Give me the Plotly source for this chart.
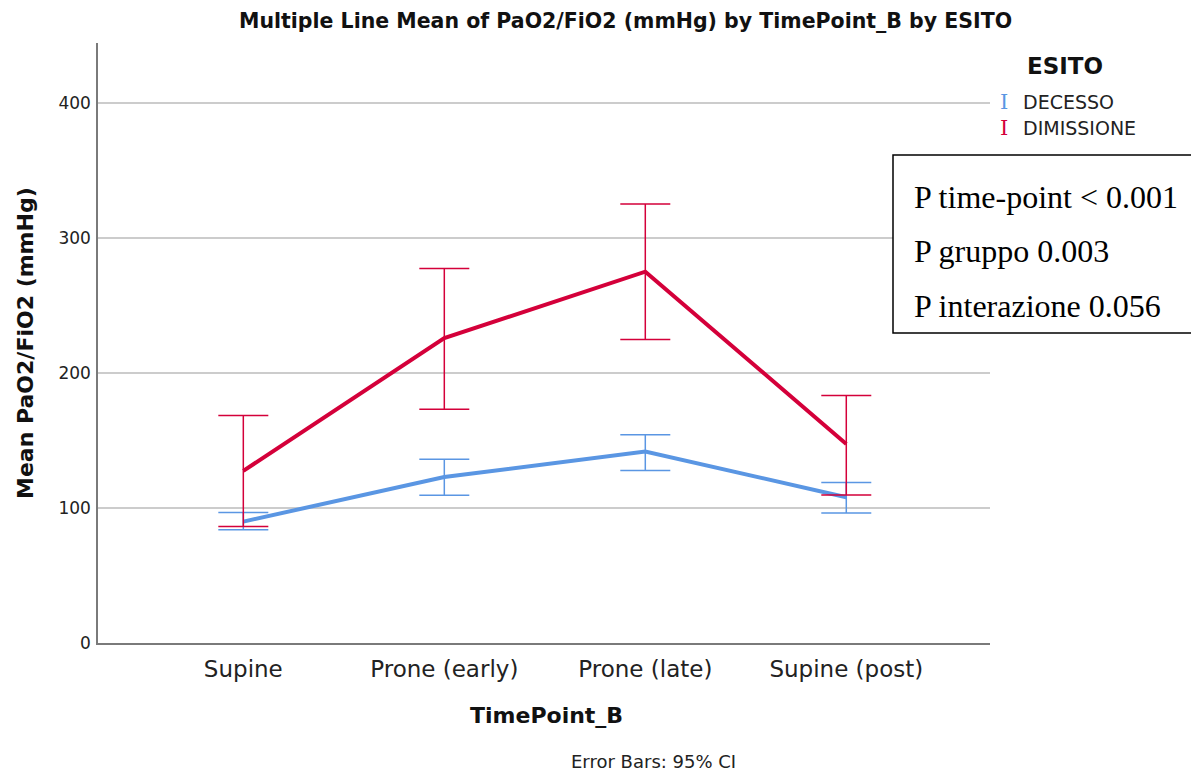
import plotly.graph_objects as go

categories = ["Supine", "Prone (early)", "Prone (late)", "Supine (post)"]

decesso_mean = [90.0, 123.0, 141.9, 108.1]
decesso_upper = [96.7, 136.3, 154.3, 119.0]
decesso_lower = [83.9, 109.6, 127.8, 96.3]

dimissione_mean = [127.6, 226.0, 275.3, 147.6]
dimissione_upper = [168.6, 277.6, 325.5, 183.4]
dimissione_lower = [86.3, 173.3, 225.0, 109.8]

y_ticks = [0, 100, 200, 300, 400]

BLUE = "#5A96E3"
RED = "#D4003A"
FONT = "DejaVu Sans"

xpos = list(range(len(categories)))

fig = go.Figure()


def add_series(name, mean, upper, lower, color):
    fig.add_trace(go.Scatter(
        x=xpos, y=mean, mode="lines", name=name,
        line=dict(color=color, width=4),
        error_y=dict(type="data", symmetric=False,
                     array=[u - m for u, m in zip(upper, mean)],
                     arrayminus=[m - l for m, l in zip(mean, lower)],
                     color=color, thickness=1.5, width=25),
        showlegend=False,
    ))


add_series("DECESSO", decesso_mean, decesso_upper, decesso_lower, BLUE)
add_series("DIMISSIONE", dimissione_mean, dimissione_upper, dimissione_lower, RED)

# page body adds an 8px offset, so the figure is 8px smaller than the window
fig.update_layout(
    width=1191, height=765,
    margin=dict(l=90, r=209, t=35, b=130),
    paper_bgcolor="white", plot_bgcolor="white",
    font=dict(family=FONT, color="#222222"),
)

fig.update_xaxes(
    range=[-0.723, 3.715], tickvals=xpos, ticktext=categories,
    showgrid=False, zeroline=False,
    showline=True, linecolor="#7a7a7a", linewidth=1.5,
    ticks="", tickfont=dict(size=23, family=FONT, color="#222222"),
    ticklabelstandoff=5,
)
fig.update_yaxes(
    range=[0, 444.8], tickvals=y_ticks, ticktext=[str(v) for v in y_ticks],
    showgrid=True, gridcolor="#cccccc", gridwidth=1.5, zeroline=False,
    showline=True, linecolor="#7a7a7a", linewidth=1.5,
    ticks="", tickfont=dict(size=17, family=FONT, color="#222222"),
    ticklabelstandoff=2,
)


def px(x):
    return (x - 98) / 892


def py(y):
    return (643 - y) / 600


ann = []
ann.append(dict(text="<b>Multiple Line Mean of PaO2/FiO2 (mmHg) by TimePoint_B by ESITO</b>",
                x=px(625), y=py(21), xref="paper", yref="paper", showarrow=False,
                font=dict(size=20.5, family=FONT, color="#111111"),
                xanchor="center", yanchor="middle"))
ann.append(dict(text="<b>Mean PaO2/FiO2 (mmHg)</b>", x=px(25), y=py(343),
                xref="paper", yref="paper", textangle=-90, showarrow=False,
                font=dict(size=22, family=FONT, color="#111111"),
                xanchor="center", yanchor="middle"))
ann.append(dict(text="<b>TimePoint_B</b>", x=px(546.7), y=py(715),
                xref="paper", yref="paper", showarrow=False,
                font=dict(size=22, family=FONT, color="#111111"),
                xanchor="center", yanchor="middle"))
ann.append(dict(text="Error Bars: 95% CI", x=px(653), y=py(761),
                xref="paper", yref="paper", showarrow=False,
                font=dict(size=18, family=FONT, color="#222222"),
                xanchor="center", yanchor="middle"))
# legend
ann.append(dict(text="<b>ESITO</b>", x=px(1065), y=py(66),
                xref="paper", yref="paper", showarrow=False,
                font=dict(size=23, family=FONT, color="#111111"),
                xanchor="center", yanchor="middle"))
for name, color, yy in [("DECESSO", BLUE, 102), ("DIMISSIONE", RED, 128)]:
    ann.append(dict(text="I", x=px(1004), y=py(yy),
                    xref="paper", yref="paper", showarrow=False,
                    font=dict(size=21, family="DejaVu Serif", color=color),
                    xanchor="center", yanchor="middle"))
    ann.append(dict(text=name, x=px(1021), y=py(yy),
                    xref="paper", yref="paper", showarrow=False,
                    font=dict(size=19, family=FONT, color="#222222"),
                    xanchor="left", yanchor="middle"))
# stats box
for txt, yy in [("P time-point &lt; 0.001", 197), ("P gruppo 0.003", 251),
                ("P interazione 0.056", 306)]:
    ann.append(dict(text=txt, x=px(912), y=py(yy),
                    xref="paper", yref="paper", showarrow=False,
                    font=dict(size=32, family="Liberation Serif", color="black"),
                    xanchor="left", yanchor="middle"))
fig.update_layout(annotations=ann)

fig.add_shape(type="rect", xref="paper", yref="paper",
              x0=px(893), x1=px(1197), y0=py(333), y1=py(155),
              line=dict(color="black", width=1.5), fillcolor="white", layer="above")

fig.write_html("out.html")
